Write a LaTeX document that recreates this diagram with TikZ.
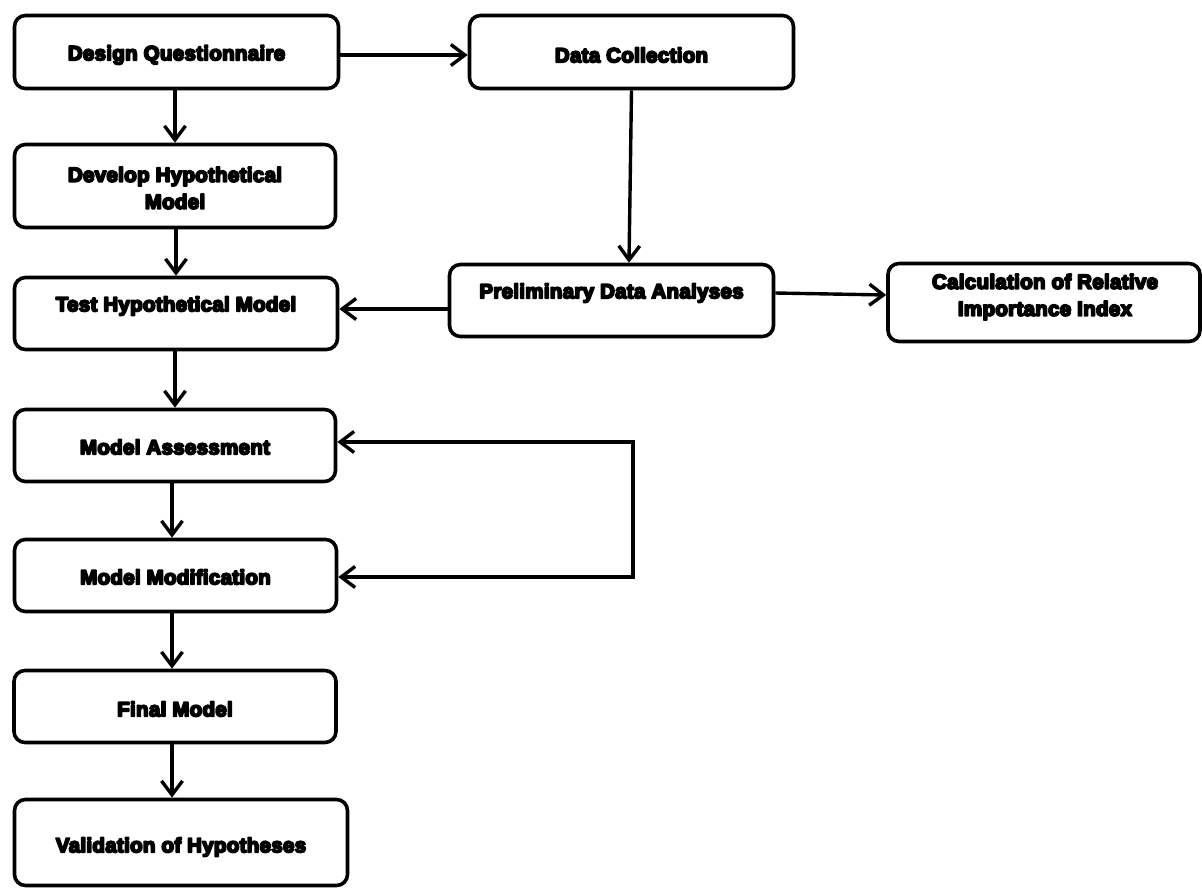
\documentclass[tikz,border=0pt]{standalone}
\usepackage{fontspec}
\newfontfamily\boxfont{Liberation Sans}[LetterSpace=1.5]
\newcommand\heavytext[1]{\special{pdf:code q 2 Tr 1.8 w 1 j}#1\special{pdf:code Q}}
\usetikzlibrary{arrows.meta}
\tikzset{
  box/.style={draw=black, line width=3.6pt, rounded corners=11pt, fill=white, inner sep=0pt},
  txt/.style={font=\boxfont\bfseries\fontsize{20.5}{27}\selectfont, align=center, inner sep=0pt, text=black},
  arr/.style={draw=black, line width=3.4pt, -{Straight Barb[length=14pt,width=21pt,line width=3.4pt]}},
  arrboth/.style={draw=black, line width=3.4pt, {Straight Barb[length=14pt,width=21pt,line width=3.4pt]}-{Straight Barb[length=14pt,width=21pt,line width=3.4pt]}}
}
\begin{document}
\begin{tikzpicture}[x=1pt,y=-1pt]
\useasboundingbox (0,0) rectangle (1202,888);
% boxes
\node[box, minimum width=324pt, minimum height=73pt] (dq) at (176.5,52) {};
\node[box, minimum width=324pt, minimum height=73pt] (dc) at (631.5,52) {};
\node[box, minimum width=321pt, minimum height=83pt] (dev) at (175,186) {};
\node[box, minimum width=323pt, minimum height=72pt] (test) at (176,313.5) {};
\node[box, minimum width=324pt, minimum height=72pt] (pda) at (611.5,300.5) {};
\node[box, minimum width=312pt, minimum height=78pt] (cri) at (1044,302.5) {};
\node[box, minimum width=321pt, minimum height=72pt] (ma) at (175,445.5) {};
\node[box, minimum width=322pt, minimum height=72pt] (mm) at (175.5,575.5) {};
\node[box, minimum width=322pt, minimum height=72pt] (fm) at (175,706.5) {};
\node[box, minimum width=333pt, minimum height=86pt] (val) at (181,842.5) {};
% texts
\node[txt] (tdq) at (176.5,55) {\heavytext{Design Questionnaire}};
\node[txt] (tdc) at (631.5,55) {\heavytext{Data Collection}};
\node[txt] (tdev) at (175,188) {\heavytext{Develop Hypothetical}\\\heavytext{Model}};
\node[txt] (ttest) at (176,306) {\heavytext{Test Hypothetical Model}};
\node[txt] (tpda) at (611.5,293) {\heavytext{Preliminary Data Analyses}};
\node[txt] (tcri) at (1045,297) {\heavytext{Calculation of Relative}\\\heavytext{Importance Index}};
\node[txt] (tma) at (175,447) {\heavytext{Model Assessment}};
\node[txt] (tmm) at (175.5,577) {\heavytext{Model Modification}};
\node[txt] (tfm) at (175,709) {\heavytext{Final Model}};
\node[txt] (tval) at (181,847) {\heavytext{Validation of Hypotheses}};
% connectors
\draw[arr] ([yshift=-3pt]dq.east) -- ([yshift=-3pt]dc.west);
\draw[arr] ([xshift=-1.5pt]dq.south) -- ([xshift=0pt]dev.north);
\draw[arr] ([xshift=1pt]dev.south) -- (test.north);
\draw[arr] ([xshift=-1pt]test.south) -- (ma.north);
\draw[arr] ([xshift=-3pt]ma.south) -- ([xshift=-3.5pt]mm.north);
\draw[arr] ([xshift=-3.5pt]mm.south) -- ([xshift=-3pt]fm.north);
\draw[arr] ([xshift=-3pt]fm.south) -- ([xshift=-9pt]val.north);
\draw[arr] (dc.south) -- ([xshift=17.5pt]pda.north);
\draw[arr] ([yshift=-8.5pt]pda.west) -- ([yshift=4.5pt]test.east);
\draw[arr] ([yshift=7.5pt]pda.east) -- ([yshift=7.5pt]cri.west);
\coordinate (c1) at (633,442);
\coordinate (c2) at (633,577);
\draw[arrboth] ([yshift=3.5pt]ma.east) -- (c1) -- (c2) -- ([yshift=-1.5pt]mm.east);
\end{tikzpicture}
\end{document}
